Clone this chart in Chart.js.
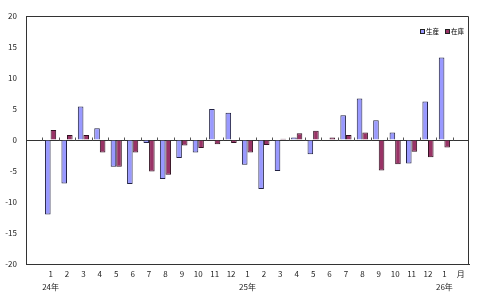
<!DOCTYPE html>
<html>
<head>
<meta charset="utf-8">
<script src="https://cdn.jsdelivr.net/npm/chart.js@4"></script>
<style>
  html, body { margin: 0; padding: 0; background: #fff; }
  #wrap { position: relative; width: 480px; height: 304px; }
  #legend { position: absolute; left: 420px; top: 27px; font: 6.5px/9px "Noto Sans CJK JP", sans-serif; color: #000; white-space: nowrap; }
  #legend span.box { display: inline-block; width: 3px; height: 3px; border: 1px solid #222; margin-right: 1px; vertical-align: 0px; }
  #legend span.item { margin-right: 6px; }
</style>
</head>
<body>
<div id="wrap">
  <canvas id="barChart" width="480" height="304"></canvas>
  <div id="legend"></div>
</div>
<script>
// months 24年1月 .. 26年1月, blank slot first and "月" slot last
const months = ['', '1', '2', '3', '4', '5', '6', '7', '8', '9', '10', '11', '12',
                '1', '2', '3', '4', '5', '6', '7', '8', '9', '10', '11', '12', '1', '月']
const years = ['', '24年', '', '', '', '', '', '', '', '', '', '', '',
               '25年', '', '', '', '', '', '', '', '', '', '', '', '26年', '']

const seisan = [null, -12.0, -7.0, 5.4, 1.9, -4.3, -7.1, -0.5, -6.3, -2.9, -2.0, 5.0, 4.4,
                -4.0, -7.9, -5.0, 0.4, -2.3, 0.1, 4.0, 6.7, 3.2, 1.2, -3.8, 6.2, 13.3, null]
const zaiko = [null, 1.6, 0.8, 0.8, -2.0, -4.3, -2.0, -5.1, -5.6, -0.9, -1.3, -0.7, -0.5,
               -2.0, -0.8, 0.2, 1.1, 1.5, 0.4, 0.8, 1.2, -4.9, -3.9, -1.9, -2.8, -1.2, null]

const yTicks = [20, 15, 10, 5, 0, -5, -10, -15, -20]

const font = { family: '"Noto Sans CJK JP", sans-serif', size: 8 }

const labels_bar = months.map((m, i) => years[i] ? [m, years[i]] : m)

// frame on top/right and little ticks on the zero line
const framePlugin = {
    id: 'frame',
    afterDraw(chart) {
        const ctx = chart.ctx
        const a = chart.chartArea
        ctx.save()
        ctx.strokeStyle = '#333'
        ctx.lineWidth = 1
        ctx.beginPath()
        ctx.moveTo(a.left, a.top + 0.5)
        ctx.lineTo(a.right - 0.5, a.top + 0.5)
        ctx.lineTo(a.right - 0.5, a.bottom)
        ctx.stroke()

        const x = chart.scales.x
        const y0 = Math.round(chart.scales.y.getPixelForValue(0)) + 0.5
        ctx.strokeStyle = '#555'
        ctx.beginPath()
        for (let i = 0; i < months.length - 1; i++) {
            const px = Math.round((x.getPixelForValue(i) + x.getPixelForValue(i + 1)) / 2) + 0.5
            ctx.moveTo(px, y0)
            ctx.lineTo(px, y0 - 3)
        }
        ctx.stroke()
        ctx.restore()
    }
}

const data_bar = {
    labels: labels_bar,
    datasets: [
        {
            label: '生産',
            data: seisan,
            backgroundColor: '#9999FF',
            borderColor: '#222244',
            borderWidth: 1,
        },
        {
            label: '在庫',
            data: zaiko,
            backgroundColor: '#993366',
            borderColor: '#331122',
            borderWidth: 1,
        },
    ]
}

const barChart_config = {
    type: 'bar',
    data: data_bar,
    plugins: [framePlugin],
    options: {
        responsive: false,
        animation: false,
        layout: { padding: { top: 16, right: 11, left: 0, bottom: 0 } },
        datasets: {
            bar: { categoryPercentage: 0.68, barPercentage: 1.0 }
        },
        plugins: {
            legend: { display: false },
            tooltip: { enabled: false },
        },
        scales: {
            x: {
                offset: true,
                grid: { display: false, drawTicks: false },
                border: { display: true, color: '#333', width: 1 },
                ticks: {
                    font: { ...font, lineHeight: 1.55 },
                    color: '#222',
                    padding: 4,
                    autoSkip: false,
                    maxRotation: 0,
                },
                afterFit(scale) { scale.height = 40 },
            },
            y: {
                min: -20,
                max: 20,
                afterBuildTicks(scale) { scale.ticks = yTicks.map(v => ({ value: v })) },
                grid: {
                    color: ctx => ctx.tick && ctx.tick.value === 0 ? '#333' : 'rgba(0,0,0,0)',
                    tickLength: 0,
                },
                border: { display: true, color: '#333', width: 1 },
                ticks: {
                    font: font,
                    color: '#222',
                    padding: 9,
                },
                afterFit(scale) { scale.width = 26 },
            },
        },
    },
}

const chart = new Chart(document.getElementById('barChart'), barChart_config)

document.getElementById('legend').innerHTML = chart.data.datasets.map(ds =>
    '<span class="item"><span class="box" style="background:' + ds.backgroundColor + '"></span>' + ds.label + '</span>'
).join('')
</script>
</body>
</html>
